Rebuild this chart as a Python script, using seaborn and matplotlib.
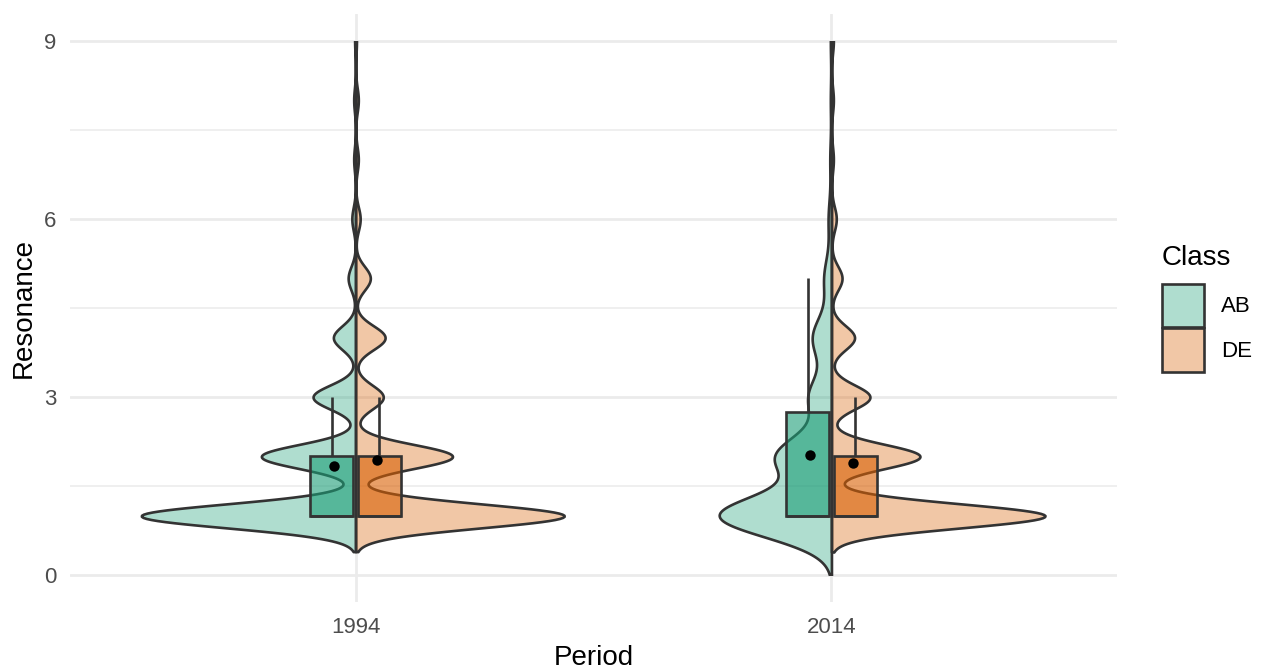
import numpy as np
import pandas as pd
import seaborn as sns
import matplotlib.pyplot as plt
from matplotlib.colors import to_rgba
from matplotlib.patches import Patch, Rectangle

# Resonance scores and how many answers got each score, per period and class
levels = [1, 2, 3, 4, 5, 6, 7, 8, 9]
counts_1994_ab = [232, 102, 46, 24, 8, 4, 2, 2, 1]
counts_1994_de = [226, 105, 30, 32, 16, 5, 3, 3, 1]
counts_2014_ab = [208, 102, 42, 35, 14, 6, 3, 2, 2]
counts_2014_de = [222, 92, 40, 24, 11, 5, 2, 2, 2]

periods = ["1994", "2014"]
classes = ["AB", "DE"]
colors = ["#1B9E77", "#D95F02"]

# Long table, one row per answer
groups = {
    ("1994", "AB"): counts_1994_ab,
    ("1994", "DE"): counts_1994_de,
    ("2014", "AB"): counts_2014_ab,
    ("2014", "DE"): counts_2014_de,
}
parts = []
for (period, cls), counts in groups.items():
    parts.append(pd.DataFrame({"Period": period, "Class": cls,
                               "Resonance": np.repeat(levels, counts)}))
df = pd.concat(parts, ignore_index=True)


# Silverman rule of thumb as in R (bw.nrd0), given as a factor of the sd
def nrd0(kde):
    x = kde.dataset[0]
    sd = x.std(ddof=1)
    q1, q3 = np.percentile(x, [25, 75])
    lo = min(sd, (q3 - q1) / 1.34)
    return 0.9 * lo * len(x) ** -0.2 / sd


sns.set_style("white")
plt.rcParams['font.family'] = ['Liberation Sans', 'DejaVu Sans']
plt.rcParams['text.color'] = 'black'
plt.rcParams['axes.labelcolor'] = 'black'

fig = plt.figure(figsize=(12.62, 6.70), dpi=100)
ax = fig.add_axes([70 / 1262, 1 - 602 / 670, 1047 / 1262, 588 / 670])

# Split violins
sns.violinplot(data=df, x="Period", y="Resonance", hue="Class", order=periods, hue_order=classes,
               split=True, inner=None, cut=3, gridsize=512, bw_method=nrd0,
               density_norm="area", common_norm=True, width=0.9, palette=colors,
               saturation=1, linecolor="#333333", linewidth=1.9, legend=False, ax=ax)
clip = Rectangle((-1, 0), 3, 9, transform=ax.transData)
for coll in ax.collections:
    coll.set_facecolor(to_rgba(coll.get_facecolor()[0], 0.35))
    coll.set_clip_path(clip)

# Narrow boxes on top
sns.boxplot(data=df, x="Period", y="Resonance", hue="Class", order=periods, hue_order=classes,
            width=0.2, gap=0.1, whis=1.5, showfliers=False, palette=colors, saturation=1,
            linecolor="#333333", linewidth=1.9, capprops={"visible": False}, legend=False, ax=ax)
for p in ax.patches:
    p.set_facecolor(to_rgba(p.get_facecolor(), 0.6))

# Means
sns.pointplot(data=df, x="Period", y="Resonance", hue="Class", order=periods, hue_order=classes,
              estimator="mean", errorbar=None, dodge=0.09, palette=["black", "black"],
              markers="o", linestyle="none", markersize=7.5, markeredgewidth=0,
              legend=False, ax=ax)

# Axes in the style of a minimal theme
ax.set_xlim(-0.6, 1.6)
ax.set_ylim(-0.45, 9.45)
ax.set_yticks([0, 3, 6, 9])
ax.set_yticks([1.5, 4.5, 7.5], minor=True)
ax.grid(which="major", color="#EBEBEB", linewidth=2.0)
ax.grid(which="minor", axis="y", color="#EBEBEB", linewidth=1.1)
ax.set_axisbelow(True)
for s in ax.spines.values():
    s.set_visible(False)
ax.tick_params(which="both", length=0, labelsize=16, labelcolor="#4D4D4D")
ax.tick_params(axis="x", pad=11)
ax.tick_params(axis="y", pad=10)
ax.set_xlabel("Period", fontsize=20, labelpad=4.5)
ax.set_ylabel("Resonance", fontsize=20, labelpad=5)

# Legend
handles = [Patch(facecolor=to_rgba(c, 0.35), edgecolor="#333333", linewidth=1.9) for c in colors]
leg = ax.legend(handles, classes, title="Class", loc="upper left",
                bbox_to_anchor=(1162 / 1262, 1 - 245 / 670), bbox_transform=fig.transFigure,
                frameon=False, fontsize=16, title_fontsize=20, alignment="left",
                handlelength=1.9, handleheight=2.61, handletextpad=0.75,
                labelspacing=0.08, borderpad=0, borderaxespad=0)
leg._legend_box.sep = 9

fig.savefig("out.png", dpi=100)
